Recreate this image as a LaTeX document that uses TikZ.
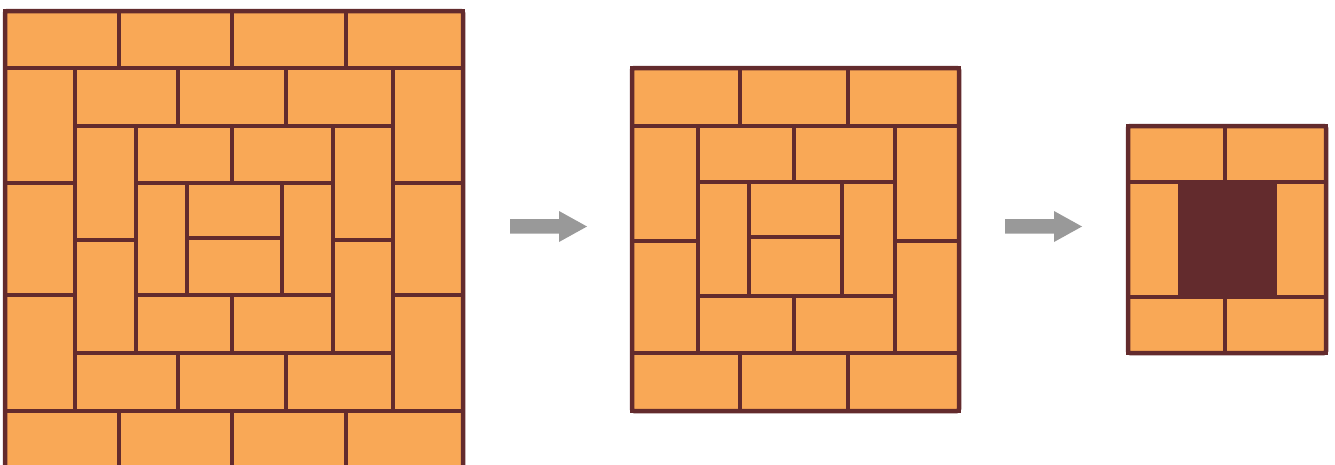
\documentclass[tikz,border=0pt]{standalone}
\definecolor{brickfill}{HTML}{F9A856}
\definecolor{brickline}{HTML}{632B2D}
\definecolor{arrowgray}{HTML}{999999}
\begin{document}
\begin{tikzpicture}[x=1pt,y=-1pt,
  brick/.style={fill=brickfill,draw=brickline,line width=4pt},
  frame/.style={draw=brickline,line width=4.5pt,rounded corners=2pt},
  core/.style={fill=brickline,draw=brickline,line width=4pt},
  blockarrow/.style={fill=arrowgray}]
\useasboundingbox (0,0) rectangle (1335,464);
\clip (0,0) rectangle (1335,464);
\newcommand\br[4]{\filldraw[brick] (#1,#2) rectangle (#3,#4);}
% ---------- big square ----------
\foreach \a/\b in {5/119,119/232,232/346,346/463}{\br{\a}{11}{\b}{68}\br{\a}{411}{\b}{469}}
\foreach \a/\b in {68/183,183/295,295/411}{\br{5}{\a}{75}{\b}\br{393}{\a}{463}{\b}}
\foreach \a/\b in {75/178,178/286,286/393}{\br{\a}{68}{\b}{126}\br{\a}{353}{\b}{411}}
\foreach \a/\b in {126/240,240/353}{\br{75}{\a}{136}{\b}\br{333}{\a}{393}{\b}}
\foreach \a/\b in {136/232,232/333}{\br{\a}{126}{\b}{183}\br{\a}{295}{\b}{353}}
\br{136}{183}{187}{295}\br{282}{183}{333}{295}
\br{187}{183}{282}{238}\br{187}{238}{282}{295}
\draw[frame] (5,11) rectangle (463,469);
% ---------- middle square ----------
\foreach \a/\b in {632/740,740/848,848/959}{\br{\a}{68}{\b}{126}\br{\a}{353}{\b}{411}}
\foreach \a/\b in {126/241,241/353}{\br{632}{\a}{698}{\b}\br{895}{\a}{959}{\b}}
\foreach \a/\b in {698/794,794/895}{\br{\a}{126}{\b}{182}\br{\a}{296}{\b}{353}}
\br{698}{182}{749}{296}\br{842}{182}{895}{296}
\br{749}{182}{842}{237}\br{749}{237}{842}{296}
\draw[frame] (632,68) rectangle (959,411);
% ---------- small square ----------
\foreach \a/\b in {1128/1225,1225/1326}{\br{\a}{126}{\b}{182}\br{\a}{297}{\b}{353}}
\br{1128}{182}{1180}{297}\br{1275}{182}{1326}{297}
\filldraw[core] (1180,182) rectangle (1275,297);
\draw[frame] (1128,126) rectangle (1326,353);
% ---------- arrows ----------
\foreach \s in {0,495}{
  \fill[blockarrow,xshift=\s] (510,219) -- (559,219) -- (559,211) -- (587,226.5) -- (559,242) -- (559,233.5) -- (510,233.5) -- cycle;}
\end{tikzpicture}
\end{document}
